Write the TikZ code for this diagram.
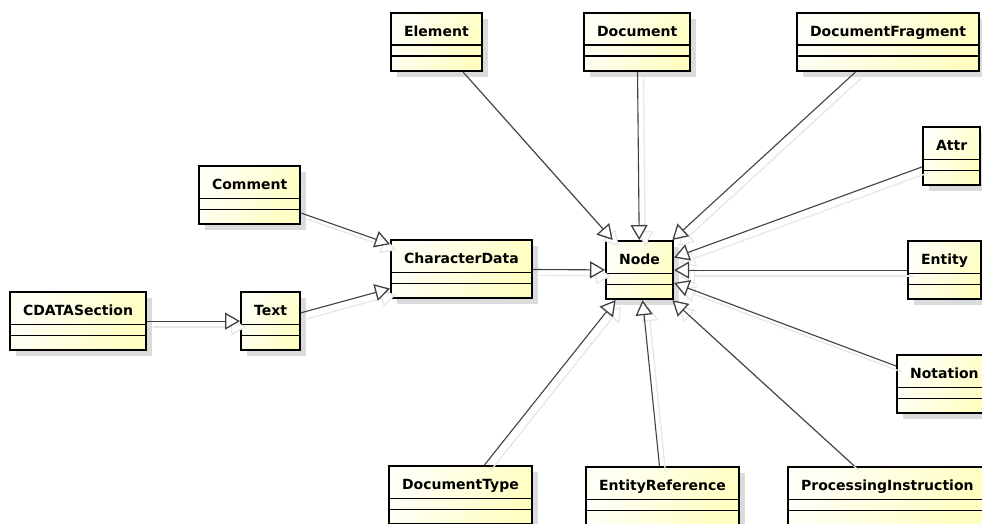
\documentclass[tikz,border=0pt]{standalone}
\usepackage{fontspec}
\setmainfont{DejaVu Sans}
\usetikzlibrary{arrows.meta, shadows}

\begin{document}
\begin{tikzpicture}[
    x=1pt, y=-1pt,
    cls/.style={
        rectangle,
        draw,
        line width=2.2pt,
        top color=yellow!3,
        bottom color=yellow!24,
        shading angle=65,
        anchor=north west,
        inner xsep=13pt,
        inner ysep=0pt,
        text height=23pt,
        text depth=35pt,
        font=\bfseries\fontsize{14}{16}\selectfont,
        drop shadow={shadow xshift=6pt, shadow yshift=-6pt, fill=black!14, opacity=1},
        path picture={
            \draw[line width=1.2pt] ([yshift=-32pt]path picture bounding box.north west) -- ([yshift=-32pt]path picture bounding box.north east);
            \draw[line width=1.2pt] ([yshift=-43pt]path picture bounding box.north west) -- ([yshift=-43pt]path picture bounding box.north east);
        }
    },
    gen/.style={
        -{Triangle[open, fill=white, length=15pt, width=17pt, line width=1.3pt]},
        line width=1.1pt,
        draw=black!75,
        preaction={draw=black!9, line width=1.4pt, transform canvas={shift={(6pt,-6pt)}}}
    }
]
\useasboundingbox (0,0) rectangle (982,524);

\node[cls] (element) at (390,12) {Element};
\node[cls] (document) at (583,12) {Document};
\node[cls] (fragment) at (796,12) {DocumentFragment};
\node[cls] (attr) at (922,126) {Attr};
\node[cls] (entity) at (907,240) {Entity};
\node[cls] (notation) at (896,354) {Notation};
\node[cls] (node) at (605,240) {Node};
\node[cls] (chardata) at (390,239) {CharacterData};
\node[cls] (comment) at (198,165) {Comment};
\node[cls] (cdata) at (9,291) {CDATASection};
\node[cls] (text) at (240,291) {Text};
\node[cls] (doctype) at (388,465) {DocumentType};
\node[cls] (entityref) at (585,466) {EntityReference};
\node[cls] (procinstr) at (787,466) {ProcessingInstruction};

\draw[gen] (element) -- (node);
\draw[gen] (document) -- (node);
\draw[gen] (fragment) -- (node);
\draw[gen] (attr) -- (node);
\draw[gen] (entity) -- (node);
\draw[gen] (notation) -- (node);
\draw[gen] (procinstr) -- (node);
\draw[gen] (entityref) -- (node);
\draw[gen] (doctype) -- (node);
\draw[gen] (chardata) -- (node);
\draw[gen] (comment) -- (chardata);
\draw[gen] (text) -- (chardata);
\draw[gen] (cdata) -- (text);

\end{tikzpicture}
\end{document}
